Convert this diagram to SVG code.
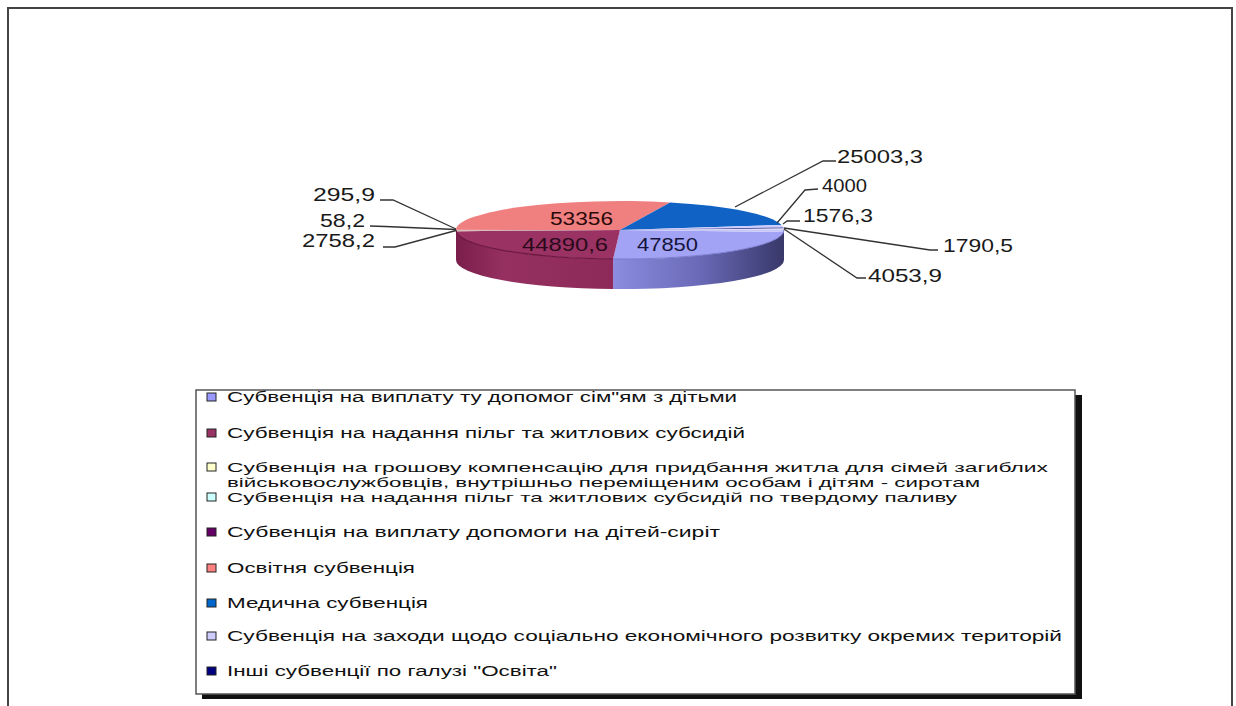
<svg xmlns="http://www.w3.org/2000/svg" width="1236" height="706" viewBox="0 0 1236 706">
<style>
  .lbl { font-family: "Liberation Sans", Arial, sans-serif; font-size: 19px; fill: #1a1a1a; }
  .in { font-family: "Liberation Sans", Arial, sans-serif; font-size: 19px; }
  .leg { font-family: "Liberation Sans", Arial, sans-serif; font-size: 14px; fill: #111; }
  .leg2 { font-family: "Liberation Sans", Arial, sans-serif; font-size: 13px; fill: #111; }
  .lead { fill: none; stroke: #333; stroke-width: 1.3; }
  .sw { stroke: #222; stroke-width: 1; }
</style>
<defs>
  <linearGradient id="gPeri" x1="613" y1="0" x2="784" y2="0" gradientUnits="userSpaceOnUse">
    <stop offset="0" stop-color="#8C8CE0"/>
    <stop offset="0.5" stop-color="#6A6AB8"/>
    <stop offset="1" stop-color="#38386A"/>
  </linearGradient>
  <linearGradient id="gMar" x1="456" y1="0" x2="613" y2="0" gradientUnits="userSpaceOnUse">
    <stop offset="0" stop-color="#7A1E4C"/>
    <stop offset="0.3" stop-color="#953060"/>
    <stop offset="1" stop-color="#8E2A5A"/>
  </linearGradient>
</defs>
<rect x="0" y="0" width="1236" height="706" fill="#ffffff"/>
<rect id="frame" x="8" y="8" width="1224" height="720" fill="none" stroke="#444" stroke-width="2"/>

<g id="pie">
  <g id="sides">
    <path d="M784,230 A164,29 0 0 1 613.1,259 L613.1,289 A164,29 0 0 0 784,260 Z" fill="url(#gPeri)"/>
    <path d="M613.1,259 A164,29 0 0 1 456,230 L456,260 A164,29 0 0 0 613.1,289 Z" fill="url(#gMar)"/>
  </g>
  <g id="top">
    <path id="s-47850" d="M620,230 L783.6,232 A164,29 0 0 1 613.1,259 Z" fill="#A3A3F5"/>
    <path id="s-44890" d="M620,230 L613.1,259 A164,29 0 0 1 456.16,231.26 Z" fill="#9A3264"/>
    <path id="s-2758" d="M620,230 L456.16,231.26 A164,29 0 0 1 456.01,230.35 Z" fill="#FFFFCC"/>
    <path id="s-58" d="M620,230 L456.01,230.35 A164,29 0 0 1 456,230.2 Z" fill="#CCFFFF"/>
    <path id="s-295" d="M620,230 L456,230.2 A164,29 0 0 1 456,229.85 Z" fill="#660066"/>
    <path id="s-53356" d="M620,230 L456,229.85 A164,29 0 0 1 670.1,202.4 Z" fill="#F08080"/>
    <path id="s-25003" d="M620,230 L670.1,202.4 A164,29 0 0 1 781.5,225 Z" fill="#1063C4"/>
    <path id="s-4000" d="M620,230 L781.5,225 A164,29 0 0 1 783.4,227.5 Z" fill="#CCCCFF"/>
    <path id="s-1576" d="M620,230 L783.4,227.5 A164,29 0 0 1 783.8,228.5 Z" fill="#3A3A8A"/>
    <path id="s-1790" d="M620,230 L783.8,228.5 A164,29 0 0 1 784,229.5 Z" fill="#D8D8FF"/>
    <path id="s-4053" d="M620,230 L784,229.5 A164,29 0 0 1 783.6,232 Z" fill="#C8C8F8"/>
    <path d="M456,230 A164,29 0 0 0 613.1,259" fill="none" stroke="#6A1840" stroke-width="1.2"/>
    <path d="M613.1,259 A164,29 0 0 0 784,230" fill="none" stroke="#7C7CD0" stroke-width="1"/>
  </g>
  <text class="in" x="550" y="225" textLength="63" lengthAdjust="spacingAndGlyphs" fill="#2A0A0A">53356</text>
  <text class="in" x="522" y="251" textLength="86" lengthAdjust="spacingAndGlyphs" fill="#2A0A1A">44890,6</text>
  <text class="in" x="637" y="251" textLength="61" lengthAdjust="spacingAndGlyphs" fill="#14143C">47850</text>
</g>

<g id="connectors">
  <path class="lead" d="M380,200 L393,200 L456,229"/>
  <path class="lead" d="M370,226 L385,226.5 L456,229.5"/>
  <path class="lead" d="M383,247 L395,247 L456,230.5"/>
  <path class="lead" d="M836,161 L823,161 L735,207"/>
  <path class="lead" d="M818,189 L805,190 L777,223"/>
  <path class="lead" d="M800,221 L787,221 L783,224"/>
  <path class="lead" d="M938,250 L930,250 L784,228"/>
  <path class="lead" d="M866,278 L857,278 L784,229"/>
</g>

<g id="labels">
  <text class="lbl" x="313" y="201" textLength="62" lengthAdjust="spacingAndGlyphs">295,9</text>
  <text class="lbl" x="320" y="227" textLength="45" lengthAdjust="spacingAndGlyphs">58,2</text>
  <text class="lbl" x="302" y="247" textLength="73" lengthAdjust="spacingAndGlyphs">2758,2</text>
  <text class="lbl" x="837" y="163" textLength="86" lengthAdjust="spacingAndGlyphs">25003,3</text>
  <text class="lbl" x="822" y="192" textLength="45" lengthAdjust="spacingAndGlyphs">4000</text>
  <text class="lbl" x="803" y="222" textLength="70" lengthAdjust="spacingAndGlyphs">1576,3</text>
  <text class="lbl" x="943" y="252" textLength="70" lengthAdjust="spacingAndGlyphs">1790,5</text>
  <text class="lbl" x="868" y="282" textLength="74" lengthAdjust="spacingAndGlyphs">4053,9</text>
</g>

<g id="legend">
  <rect x="202" y="395" width="880" height="304" fill="#111"/>
  <rect x="196" y="390" width="879" height="304" fill="#ffffff" stroke="#555" stroke-width="1.5"/>
  <rect class="sw" x="207" y="393" width="9" height="8" fill="#9999FF"/>
  <text class="leg" x="227" y="402" textLength="510" lengthAdjust="spacingAndGlyphs">Субвенція на виплату ту допомог сім"ям з дітьми</text>
  <rect class="sw" x="207" y="429" width="9" height="8" fill="#993366"/>
  <text class="leg" x="227" y="438" textLength="518" lengthAdjust="spacingAndGlyphs">Субвенція на надання пільг та житлових субсидій</text>
  <rect class="sw" x="207" y="463" width="9" height="8" fill="#FFFFCC"/>
  <text class="leg2" x="227" y="472" textLength="821" lengthAdjust="spacingAndGlyphs">Субвенція на грошову компенсацію для  придбання житла для сімей загиблих</text>
  <text class="leg2" x="227" y="487" textLength="753" lengthAdjust="spacingAndGlyphs">військовослужбовців, внутрішньо переміщеним особам і дітям - сиротам</text>
  <rect class="sw" x="207" y="493" width="9" height="8" fill="#CCFFFF"/>
  <text class="leg2" x="227" y="502" textLength="730" lengthAdjust="spacingAndGlyphs">Субвенція на надання пільг та житлових субсидій по твердому паливу</text>
  <rect class="sw" x="207" y="528" width="9" height="8" fill="#660066"/>
  <text class="leg" x="227" y="537" textLength="493" lengthAdjust="spacingAndGlyphs">Субвенція на виплату допомоги на  дітей-сиріт</text>
  <rect class="sw" x="207" y="564" width="9" height="8" fill="#FF8080"/>
  <text class="leg" x="227" y="573" textLength="188" lengthAdjust="spacingAndGlyphs">Освітня субвенція</text>
  <rect class="sw" x="207" y="599" width="9" height="8" fill="#0066CC"/>
  <text class="leg" x="227" y="608" textLength="201" lengthAdjust="spacingAndGlyphs">Медична субвенція</text>
  <rect class="sw" x="207" y="632" width="9" height="8" fill="#CCCCFF"/>
  <text class="leg" x="227" y="641" textLength="835" lengthAdjust="spacingAndGlyphs">Субвенція на заходи щодо соціально  економічного розвитку окремих територій</text>
  <rect class="sw" x="207" y="667" width="9" height="8" fill="#000080"/>
  <text class="leg" x="227" y="676" textLength="330" lengthAdjust="spacingAndGlyphs">Інші субвенції по галузі "Освіта"</text>
</g>
</svg>
